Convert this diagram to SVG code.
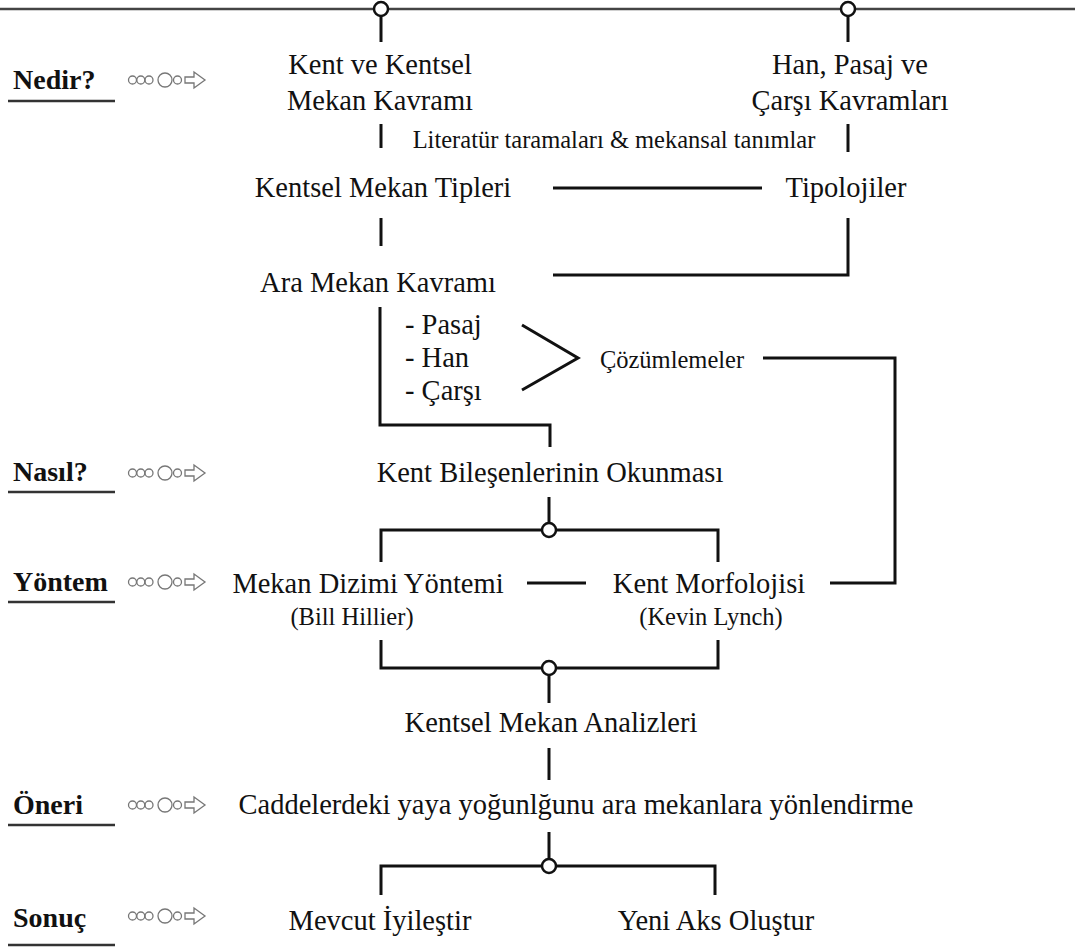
<svg xmlns="http://www.w3.org/2000/svg" width="1075" height="951" viewBox="0 0 1075 951">
<style>
.t{font-family:"Liberation Serif","Times New Roman",serif;font-size:28.5px;fill:#111;text-anchor:middle}
.a{font-family:"Liberation Serif","Times New Roman",serif;font-size:28.5px;fill:#111;text-anchor:start}
.s{font-family:"Liberation Serif","Times New Roman",serif;font-size:24.5px;fill:#111;text-anchor:middle}
.l{font-family:"Liberation Serif","Times New Roman",serif;font-size:28px;font-weight:bold;fill:#111}
.c{fill:none;stroke:#111;stroke-width:3}
.k{fill:#fff;stroke:#111;stroke-width:2.5}
.u{stroke:#333;stroke-width:2.5}
.ic{fill:none;stroke:#777;stroke-width:1.3}
</style>
<defs>
<g id="icon">
<circle class="ic" cx="4.5" cy="0" r="4"/>
<circle class="ic" cx="12.8" cy="0" r="4"/>
<circle class="ic" cx="21" cy="0" r="4"/>
<circle class="ic" cx="37" cy="0" r="7"/>
<circle class="ic" cx="49.5" cy="0" r="4"/>
<path class="ic" d="M57,-3 H66 V-8 L77,0 L66,8 V3 H57 Z"/>
</g>
</defs>

<g id="connectors">
<line x1="0" y1="9" x2="1075" y2="9" stroke="#444" stroke-width="2.5"/>
<line class="c" x1="381" y1="16" x2="381" y2="42"/>
<line class="c" x1="848" y1="16" x2="848" y2="42"/>
<line class="c" x1="381" y1="124" x2="381" y2="148"/>
<line class="c" x1="848" y1="124" x2="848" y2="152"/>
<line class="c" x1="553" y1="188" x2="762" y2="188"/>
<line class="c" x1="381" y1="218" x2="381" y2="246"/>
<polyline class="c" points="553,275 848,275 848,218"/>
<polyline class="c" points="380,307 380,425 550,425 550,447"/>
<polyline class="c" points="522,325 578,358 522,390"/>
<polyline class="c" points="763,358 895,358 895,583 830,583"/>
<line class="c" x1="549" y1="497" x2="549" y2="523"/>
<polyline class="c" points="381,562 381,530 718,530 718,562"/>
<line class="c" x1="527" y1="583" x2="586" y2="583"/>
<polyline class="c" points="381,640 381,668 718,668 718,640"/>
<line class="c" x1="549" y1="675" x2="549" y2="703"/>
<line class="c" x1="549" y1="748" x2="549" y2="780"/>
<line class="c" x1="549" y1="832" x2="549" y2="859"/>
<polyline class="c" points="381,895 381,866 715,866 715,895"/>
<circle class="k" cx="381" cy="9" r="7"/>
<circle class="k" cx="848" cy="9" r="7"/>
<circle class="k" cx="549" cy="530" r="7"/>
<circle class="k" cx="549" cy="668" r="7"/>
<circle class="k" cx="549" cy="866" r="7"/>
</g>

<g id="label-nedir"><text class="l" x="13" y="89">Nedir?</text><line class="u" x1="8" y1="101" x2="115" y2="101"/><use href="#icon" x="128" y="80"/></g>
<g id="label-nasil"><text class="l" x="13" y="481">Nasıl?</text><line class="u" x1="8" y1="492" x2="115" y2="492"/><use href="#icon" x="128" y="473"/></g>
<g id="label-yontem"><text class="l" x="13" y="591">Yöntem</text><line class="u" x1="8" y1="602" x2="115" y2="602"/><use href="#icon" x="128" y="582"/></g>
<g id="label-oneri"><text class="l" x="13" y="814">Öneri</text><line class="u" x1="8" y1="825" x2="115" y2="825"/><use href="#icon" x="128" y="805"/></g>
<g id="label-sonuc"><text class="l" x="13" y="927">Sonuç</text><line class="u" x1="8" y1="945" x2="115" y2="945"/><use href="#icon" x="128" y="916"/></g>

<g id="n-kent"><text class="t" x="380" y="74">Kent ve Kentsel</text><text class="t" x="380" y="110">Mekan Kavramı</text></g>
<g id="n-han"><text class="t" x="850" y="74">Han, Pasaj ve</text><text class="t" x="850" y="110">Çarşı Kavramları</text></g>
<g id="n-literatur"><text class="s" x="614" y="148">Literatür taramaları &amp; mekansal tanımlar</text></g>
<g id="n-tipleri"><text class="t" x="383" y="197">Kentsel Mekan Tipleri</text></g>
<g id="n-tipolojiler"><text class="t" x="846" y="197">Tipolojiler</text></g>
<g id="n-ara"><text class="t" x="378" y="292">Ara Mekan Kavramı</text></g>
<g id="n-list"><text class="a" x="405" y="334">- Pasaj</text><text class="a" x="405" y="367">- Han</text><text class="a" x="405" y="400">- Çarşı</text></g>
<g id="n-cozum"><text class="s" x="672" y="368">Çözümlemeler</text></g>
<g id="n-okunma"><text class="t" x="550" y="482">Kent Bileşenlerinin Okunması</text></g>
<g id="n-mekan-dizimi"><text class="t" x="368" y="593">Mekan Dizimi Yöntemi</text><text class="s" x="352" y="625">(Bill Hillier)</text></g>
<g id="n-morfoloji"><text class="t" x="709" y="593">Kent Morfolojisi</text><text class="s" x="711" y="625">(Kevin Lynch)</text></g>
<g id="n-analiz"><text class="t" x="551" y="732">Kentsel Mekan Analizleri</text></g>
<g id="n-oneri"><text class="t" x="576" y="814">Caddelerdeki yaya yoğunlğunu ara mekanlara yönlendirme</text></g>
<g id="n-mevcut"><text class="t" x="380" y="930">Mevcut İyileştir</text></g>
<g id="n-yeni"><text class="t" x="716" y="930">Yeni Aks Oluştur</text></g>
</svg>
